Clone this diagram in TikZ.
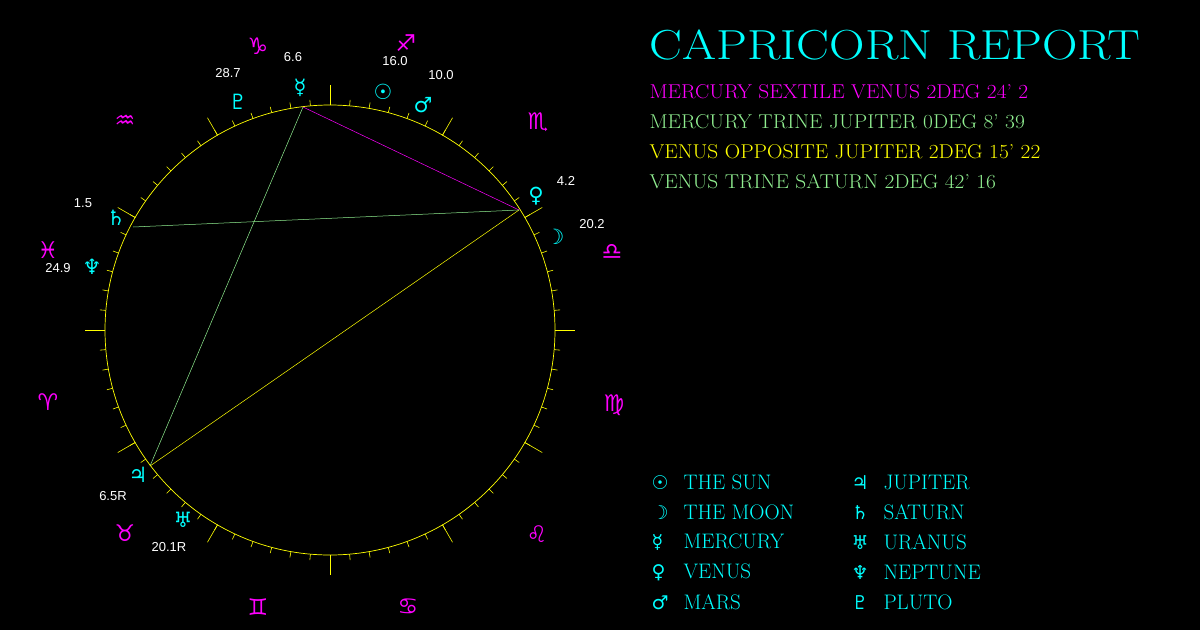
\documentclass[tikz,border=0pt]{standalone}
\usepackage{fontspec}
\usetikzlibrary{calc}
\newfontfamily\glyphs{DejaVu Sans}
\newfontfamily\labelfont{Liberation Sans}
\definecolor{zcyan}{HTML}{00FFFF}
\definecolor{zmag}{HTML}{FF00FF}
\definecolor{zgreen}{HTML}{90EE90}
\definecolor{zyellow}{HTML}{FFFF00}
\tikzset{
  sign/.style={text=zmag, font=\glyphs\fontsize{23}{23}\selectfont, inner sep=0pt},
  planet/.style={text=zcyan, font=\glyphs\fontsize{21}{21}\selectfont},
  deg/.style={text=white, font=\labelfont\fontsize{13}{13}\selectfont, inner sep=1pt},
  aspect/.style={anchor=west, font=\fontsize{20}{20}\selectfont},
  legend/.style={anchor=west, text=zcyan, font=\fontsize{21}{21}\selectfont},
}
\begin{document}
\begin{tikzpicture}[x=1pt,y=-1pt]
    \fill[black] (0,0) rectangle (1200,630);
    \useasboundingbox (0,0) rectangle (1200,630);
    % wheel
    \coordinate (C) at (330,330);
    \draw[zyellow, line width=0.7pt] (C) circle (225);
    \foreach \a in {0,5,...,355} {
        \draw[zyellow, line width=0.6pt] ($(C)+(\a:225)$) -- ($(C)+(\a:231)$);
    }
    \foreach \a in {0,30,...,330} {
        \draw[zyellow, line width=0.6pt] ($(C)+(\a:225)$) -- ($(C)+(\a:245)$);
    }
    % signs
    \node[sign] (cap) at (258,46) {♑};
    \node[sign] (sag) at (406,43) {♐};
    \node[sign] (sco) at (538,122) {♏};
    \node[sign] (lib) at (612,252) {♎};
    \node[sign] (vir) at (614,405) {♍};
    \node[sign] (leo) at (537,534) {♌};
    \node[sign] (can) at (408,607) {♋};
    \node[sign] (gem) at (258,607) {♊};
    \node[sign] (tau) at (125,533) {♉};
    \node[sign] (ari) at (48,402) {♈};
    \node[sign] (pis) at (48,250) {♓};
    \node[sign] (aqu) at (125,122) {♒};
    % planets
    \node[planet] (mercury) at (300,88) {☿};
    \node[planet] (sun) at (383,92) {☉};
    \node[planet] (mars) at (423,105) {♂};
    \node[planet] (venus) at (536,196) {♀};
    \node[planet] (moon) at (555,237) {☽};
    \node[planet] (saturn) at (116,218) {♄};
    \node[planet] (neptune) at (92,267) {♆};
    \node[planet] (jupiter) at (138,475) {♃};
    \node[planet] (uranus) at (183,520) {♅};
    \node[planet] (pluto) at (238,102) {♇};
    \node[deg] (dmercury) at (293,57) {6.6};
    \node[deg] (dsun) at (395,61) {16.0};
    \node[deg] (dmars) at (441,75) {10.0};
    \node[deg] (dvenus) at (566,181) {4.2};
    \node[deg] (dmoon) at (592,224) {20.2};
    \node[deg] (dsaturn) at (83,203) {1.5};
    \node[deg] (dneptune) at (58,268) {24.9};
    \node[deg] (djupiter) at (113,496) {6.5R};
    \node[deg] (duranus) at (169,547) {20.1R};
    \node[deg] (dpluto) at (228,73) {28.7};
    % aspects
    \coordinate (pMe) at (303,107);
    \coordinate (pVe) at (519,210);
    \coordinate (pJu) at (150,466);
    \coordinate (pSa) at (133,227);
    \draw[zmag, line width=0.5pt] (pMe) -- (pVe);
    \draw[zgreen, line width=0.5pt] (pMe) -- (pJu);
    \draw[zyellow, line width=0.5pt] (pVe) -- (pJu);
    \draw[zgreen, line width=0.5pt] (pVe) -- (pSa);
    % report
    \node[anchor=west, text=zcyan, font=\fontsize{42}{42}\selectfont] (title) at (646,45) {\scalebox{1.17}[1]{CAPRICORN REPORT}};
    \node[aspect, text=zmag] (asp1) at (646,92) {\scalebox{1.07}[1]{MERCURY SEXTILE VENUS 2DEG 24' 2}};
    \node[aspect, text=zgreen] (asp2) at (646,122) {\scalebox{1.07}[1]{MERCURY TRINE JUPITER 0DEG 8' 39}};
    \node[aspect, text=zyellow] (asp3) at (646,152) {\scalebox{1.07}[1]{VENUS OPPOSITE JUPITER 2DEG 15' 22}};
    \node[aspect, text=zgreen] (asp4) at (646,182) {\scalebox{1.07}[1]{VENUS TRINE SATURN 2DEG 42' 16}};
    % legend
    \foreach \g/\t [count=\i] in {☉/THE SUN,☽/THE MOON,☿/MERCURY,♀/VENUS,♂/MARS} {
        \node[legend] (la\i) at (648,452+30*\i) {\makebox[32pt][l]{\glyphs\fontsize{19}{19}\selectfont\g}\t};
    }
    \foreach \g/\t [count=\i] in {♃/JUPITER,♄/SATURN,♅/URANUS,♆/NEPTUNE,♇/PLUTO} {
        \node[legend] (lb\i) at (848,452+30*\i) {\makebox[32pt][l]{\glyphs\fontsize{19}{19}\selectfont\g}\t};
    }
\end{tikzpicture}
\end{document}
